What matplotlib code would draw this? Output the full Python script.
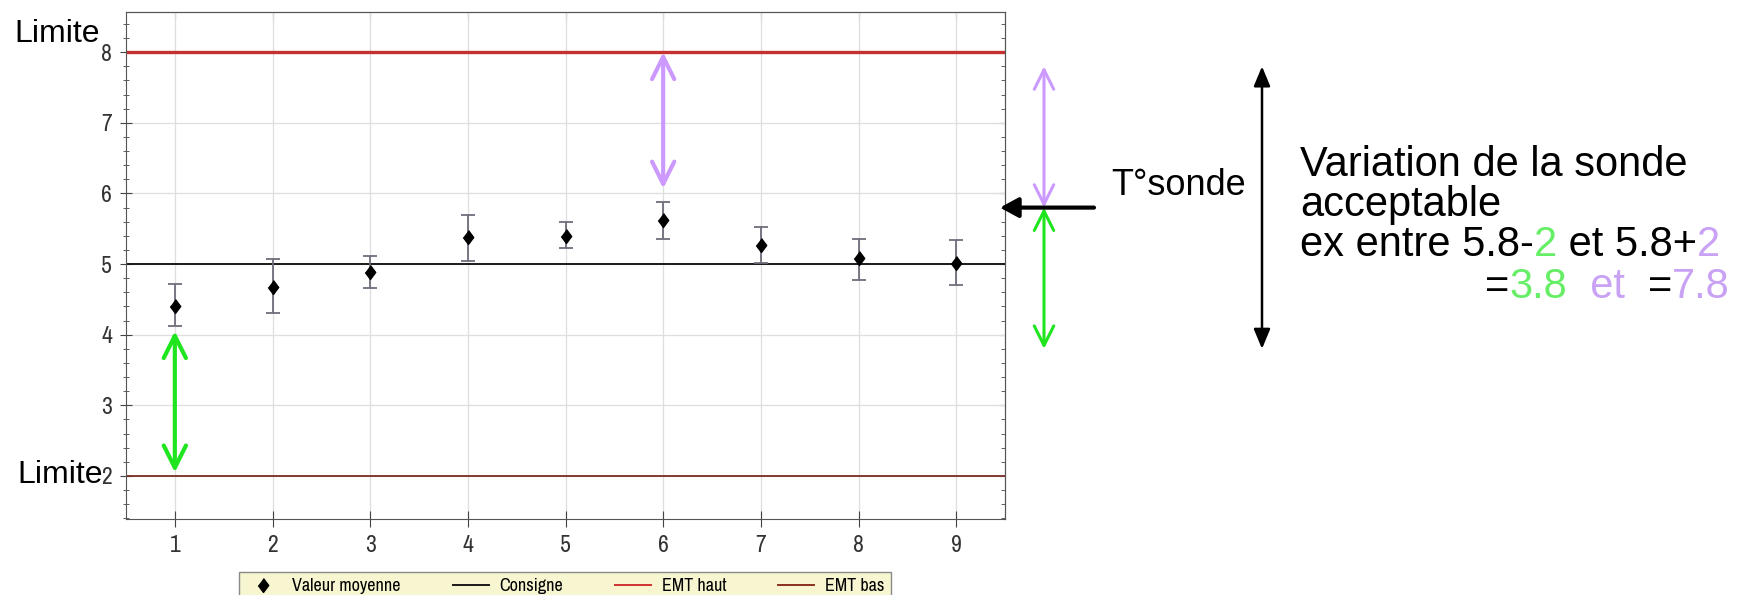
import matplotlib
matplotlib.use("Agg")
import matplotlib.pyplot as plt
from matplotlib import font_manager
from matplotlib.lines import Line2D
from matplotlib.ticker import MultipleLocator

# valeurs
mesures = [1, 2, 3, 4, 5, 6, 7, 8, 9]
valeur_moyenne = [4.41, 4.68, 4.89, 5.38, 5.40, 5.62, 5.27, 5.08, 5.01]
err_haut = [4.72, 5.07, 5.12, 5.69, 5.59, 5.88, 5.52, 5.36, 5.34]
err_bas = [4.12, 4.31, 4.66, 5.05, 5.23, 5.36, 5.02, 4.78, 4.70]
consigne = 5
emt_haut = 8
emt_bas = 2
t_sonde = 5.8
tolerance = 2
legende = ["Valeur moyenne", "Consigne", "EMT haut", "EMT bas"]


def police_etroite():
    # une police etroite si elle existe, sinon Liberation Sans
    for f in font_manager.fontManager.ttflist:
        if "Narrow" in f.name and f.style == "normal" and f.weight in (400, "normal"):
            return f.name
    return "Liberation Sans"


etroite = police_etroite()
plt.rcParams["font.family"] = ["Liberation Sans", "DejaVu Sans"]

W, H = 1742, 595
fig = plt.figure(figsize=(W / 100, H / 100), dpi=100)


def fx(px):
    return px / W


def fy(py):
    return 1 - py / H


ax = fig.add_axes([fx(126), fy(519), fx(1005) - fx(126), fy(12) - fy(519)])
ax.set_xlim(0.5, 9.5)
ax.set_ylim(1.39, 8.57)

vert = "#1fe51f"
violet = "#cc99ff"
diamant = [(0, 1), (0.75, 0), (0, -1), (-0.75, 0)]

ax.axhline(emt_haut, color="#c53030", lw=2.4, zorder=2)
ax.axhline(consigne, color="#1a1a1a", lw=1.4, zorder=2)
ax.axhline(emt_bas, color="#7b2b22", lw=1.3, zorder=2)

bas = [v - b for v, b in zip(valeur_moyenne, err_bas)]
haut = [h - v for v, h in zip(valeur_moyenne, err_haut)]
ax.errorbar(mesures, valeur_moyenne, yerr=[bas, haut], fmt="none",
            ecolor="#6e6e7c", elinewidth=1.3, capsize=5, capthick=1.3, zorder=3)
ax.plot(mesures, valeur_moyenne, ls="none", marker=diamant, ms=10,
        color="black", zorder=4)

# axes et graduations
ax.set_xticks(mesures)
ax.yaxis.set_major_locator(MultipleLocator(1))
ax.yaxis.set_minor_locator(MultipleLocator(0.2))
ax.grid(True, which="major", color="#dedede", lw=0.9)
ax.set_axisbelow(True)
for s in ax.spines.values():
    s.set_color("#555555")
ax.tick_params(axis="x", which="major", direction="inout", length=11.5,
               color="#444444", labelcolor="#333333", pad=6,
               labelsize=17, labelfontfamily=etroite)
ax.tick_params(axis="y", which="major", direction="inout", length=8,
               color="#444444", labelcolor="#333333", pad=6,
               labelsize=17, labelfontfamily=etroite)
ax.tick_params(axis="y", which="minor", direction="inout", length=4.5,
               color="#444444")

haut_ax = ax.secondary_xaxis("top")
haut_ax.set_xticks(mesures)
haut_ax.tick_params(direction="in", length=5, color="#444444", labeltop=False)
droite_ax = ax.secondary_yaxis("right")
droite_ax.yaxis.set_major_locator(MultipleLocator(1))
droite_ax.yaxis.set_minor_locator(MultipleLocator(0.2))
droite_ax.tick_params(which="major", direction="in", length=4.5,
                      color="#444444", labelright=False)
droite_ax.tick_params(which="minor", direction="in", length=3,
                      color="#444444")
haut_ax.spines["top"].set_color("#555555")
droite_ax.spines["right"].set_color("#555555")

# fleches dans le graphique
fleche_ouverte = "<->,head_length=0.8,head_width=0.4"
ax.annotate("", xy=(1, emt_bas + 0.05), xytext=(1, 4.05),
            arrowprops=dict(arrowstyle=fleche_ouverte, color=vert, lw=3,
                            mutation_scale=20, shrinkA=0, shrinkB=0), zorder=5)
ax.annotate("", xy=(6, emt_haut), xytext=(6, 6.07),
            arrowprops=dict(arrowstyle=fleche_ouverte, color=violet, lw=3,
                            mutation_scale=20, shrinkA=0, shrinkB=0), zorder=5)

# fleches a droite du graphique
coords = ("figure fraction", "data")
ax.annotate("", xy=(fx(1044), t_sonde + tolerance), xycoords=coords,
            xytext=(fx(1044), t_sonde), textcoords=coords, annotation_clip=False,
            arrowprops=dict(arrowstyle="<->,head_length=0.7,head_width=0.35",
                            color=violet, lw=2.2, mutation_scale=20,
                            shrinkA=0, shrinkB=0))
ax.annotate("", xy=(fx(1044), t_sonde - tolerance), xycoords=coords,
            xytext=(fx(1044), t_sonde), textcoords=coords, annotation_clip=False,
            arrowprops=dict(arrowstyle="<->,head_length=0.7,head_width=0.35",
                            color=vert, lw=2.2, mutation_scale=20,
                            shrinkA=0, shrinkB=0))
ax.annotate("", xy=(fx(1000), t_sonde), xycoords=coords,
            xytext=(fx(1094), t_sonde), textcoords=coords, annotation_clip=False,
            arrowprops=dict(arrowstyle="-|>,head_length=0.55,head_width=0.3",
                            color="black", lw=3, mutation_scale=20,
                            shrinkA=0, shrinkB=0))
ax.annotate("", xy=(fx(1262), t_sonde + tolerance), xycoords=coords,
            xytext=(fx(1262), t_sonde - tolerance), textcoords=coords,
            annotation_clip=False,
            arrowprops=dict(arrowstyle="<|-|>,head_length=0.6,head_width=0.25",
                            color="black", lw=1.8, mutation_scale=20,
                            shrinkA=0, shrinkB=0))

# textes
fig.text(fx(14), fy(42), "Limite", fontsize=23, va="baseline")
fig.text(fx(17), fy(483), "Limite", fontsize=23, va="baseline")
fig.text(fx(1111), fy(195), "T°sonde", fontsize=26, va="baseline")

taille = 30
fig.text(fx(1300), fy(176), "Variation de la sonde", fontsize=taille, va="baseline")
fig.text(fx(1300), fy(216), "acceptable", fontsize=taille, va="baseline")

vert_txt = "#66ee66"
violet_txt = "#c9a2f5"


# morceaux colores, places les uns apres les autres
def morceaux_ligne(morceaux, x, y, droite=False):
    ordre = morceaux[::-1] if droite else morceaux
    ha = "right" if droite else "left"
    prev = fig.text(x, y, ordre[0][0], color=ordre[0][1], fontsize=taille,
                    va="bottom", ha=ha)
    for texte, couleur in ordre[1:]:
        prev = fig.add_artist(plt.Annotation(
            texte, xy=(0, 0) if droite else (1, 0), xycoords=prev,
            color=couleur, fontsize=taille, va="bottom", ha=ha))


morceaux_ligne([("ex entre 5.8-", "black"), ("2", vert_txt),
                (" et 5.8+", "black"), ("2", violet_txt)],
               fx(1300), fy(265))
morceaux_ligne([("=", "black"), ("3.8", vert_txt), ("  et  ", violet_txt),
                ("=", "black"), ("7.8", violet_txt)],
               fx(1730), fy(307), droite=True)

# legende sous le graphique
poignees = [
    Line2D([], [], ls="none", marker=diamant, ms=10, color="black"),
    Line2D([], [], color="#1a1a1a", lw=1.4),
    Line2D([], [], color="#d03030", lw=1.4),
    Line2D([], [], color="#8b3020", lw=1.4),
]
fig.legend(poignees, legende, loc="upper left",
           bbox_to_anchor=(fx(239), -0.2, fx(891) - fx(239), fy(572) + 0.2),
           mode="expand", ncol=4, fancybox=False, framealpha=1,
           facecolor="#f8f6d0", edgecolor="#8a8a8a",
           prop={"family": etroite, "size": 13}, handlelength=2.0,
           handletextpad=0.6, borderpad=0.35, borderaxespad=0)

fig.savefig("out.png", dpi=100)
